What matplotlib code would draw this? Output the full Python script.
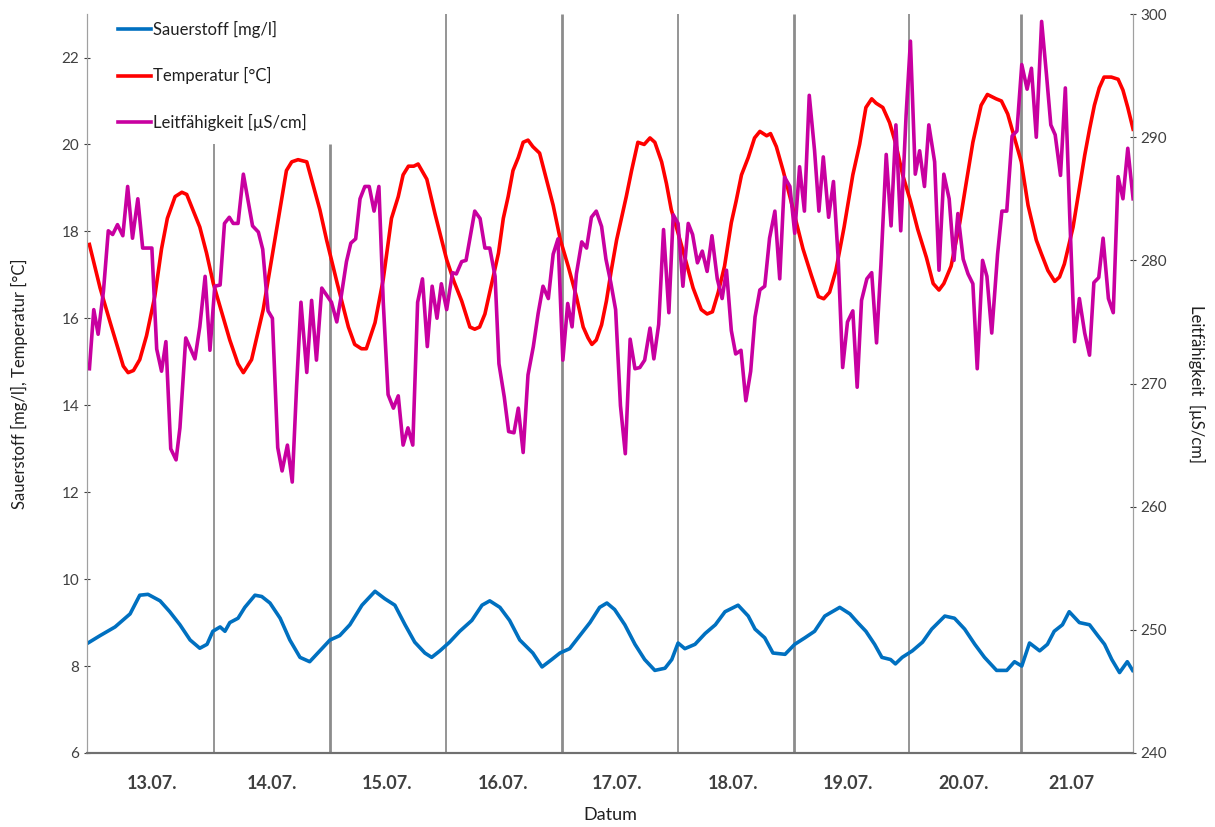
import numpy as np
import matplotlib
matplotlib.use("Agg")
import matplotlib.pyplot as plt

plt.rcParams['font.family'] = ['Lato', 'DejaVu Sans']

# hours since start of record
t_temp = [0.5, 2.7, 4.8, 7.5, 8.5, 9.6, 10.9, 12.3, 14.0, 15.4, 16.6, 18.2, 19.6, 20.6, 23.3, 24.7,
          26.1, 29.5, 31.2, 32.3, 34.0, 36.4, 38.8, 41.2, 42.3, 43.6, 45.4, 48.1, 49.5, 51.7,
          54.0, 55.3, 56.7, 57.7, 59.5, 61.2, 62.9, 64.3, 65.3, 66.4, 67.5, 68.4, 70.2, 71.9,
          74.3, 75.8, 77.4, 79.1, 80.1, 81.1, 82.2, 83.6, 85.0, 86.0, 87.0, 88.0, 89.1, 90.1,
          91.1, 92.1, 93.5, 94.9, 96.3, 97.8, 99.4, 101.1, 102.5, 103.5, 104.3, 105.2, 106.3,
          107.3, 108.3, 109.4, 110.4, 111.4, 112.5, 113.8, 115.1, 116.3, 117.3, 118.7, 119.7,
          120.7, 122.0, 123.5, 125.2, 126.9, 128.1, 129.2, 130.4, 131.7, 133.1, 134.1, 135.2,
          136.6, 137.9, 139.0, 140.4, 141.2, 142.4, 143.8, 145.2, 146.1, 147.9, 149.6, 151.1,
          152.2, 153.4, 154.7, 156.4, 158.2, 159.6, 160.9, 162.1, 163.0, 164.4, 165.8, 167.1,
          168.5, 170.1, 171.6, 173.4, 174.8, 176.0, 177.0, 178.5, 180.3, 181.6, 183.0, 184.7,
          186.0, 187.8, 188.9, 190.2, 191.6, 193.0, 194.4, 196.1, 197.1, 198.5, 199.9, 200.9,
          201.9, 203.7, 205.0, 206.1, 207.1, 208.1, 209.1, 210.1, 211.6, 213.0, 214.0, 215.0, 216.1]
temp = [17.7, 16.7, 15.9, 14.9, 14.75, 14.8, 15.05, 15.6, 16.5, 17.6, 18.3, 18.8, 18.9, 18.85, 18.1, 17.5,
        16.8, 15.5, 14.95, 14.75, 15.05, 16.2, 17.8, 19.4, 19.6, 19.65, 19.6, 18.5, 17.8, 16.8,
        15.8, 15.4, 15.3, 15.3, 15.9, 16.9, 18.3, 18.8, 19.3, 19.5, 19.5, 19.55, 19.2, 18.4,
        17.35, 16.85, 16.4, 15.8, 15.75, 15.8, 16.1, 16.8, 17.5, 18.3, 18.8, 19.4, 19.7, 20.05,
        20.1, 19.95, 19.8, 19.2, 18.6, 17.8, 17.2, 16.5, 15.8, 15.55, 15.4, 15.5, 15.85,
        16.4, 17.1, 17.8, 18.3, 18.8, 19.4, 20.05, 20.0, 20.15, 20.05, 19.6, 19.1,
        18.5, 18.0, 17.4, 16.7, 16.2, 16.1, 16.15, 16.6, 17.2, 18.2, 18.7, 19.3,
        19.7, 20.15, 20.3, 20.2, 20.25, 19.95, 19.4, 18.8, 18.4, 17.6, 17.0, 16.5,
        16.45, 16.6, 17.1, 18.1, 19.3, 20.0, 20.85, 21.05, 20.95, 20.85, 20.5, 20.0,
        19.3, 18.7, 18.05, 17.4, 16.8, 16.65, 16.8, 17.2, 18.2, 19.1, 20.05, 20.9,
        21.15, 21.05, 21.0, 20.7, 20.15, 19.6, 18.6, 17.8, 17.5, 17.1, 16.85, 16.95,
        17.25, 18.1, 19.0, 19.75, 20.35, 20.9, 21.3, 21.55, 21.55, 21.5, 21.25, 20.85, 20.35]

t_o2 = [0.2, 2.7, 5.8, 8.9, 10.9, 12.6, 15.1, 17.1, 19.2, 21.3, 23.3, 24.8, 26.0, 27.5, 28.5, 29.5,
        31.2, 32.6, 34.7, 36.1, 37.8, 39.9, 41.9, 44.0, 46.0, 48.1, 50.2, 52.2, 54.3, 56.8, 59.5,
        61.5, 63.6, 65.7, 67.7, 69.8, 71.2, 72.9, 74.9, 77.0, 79.5, 81.6, 83.2, 85.3, 87.3, 89.4,
        92.1, 94.0, 96.0, 97.7, 99.7, 101.8, 103.9, 105.9, 107.4, 109.0, 111.1, 113.2, 115.2,
        117.3, 119.4, 120.8, 122.1, 123.5, 125.6, 127.7, 129.8, 131.8, 134.5, 136.6, 138.0,
        140.0, 141.7, 144.2, 146.2, 148.3, 150.3, 152.4, 155.5, 157.6, 159.2, 160.9, 162.7,
        164.2, 166.0, 167.0, 168.4, 170.5, 172.6, 174.5, 177.2, 179.2, 181.3, 183.4, 185.4,
        187.9, 190.0, 191.6, 193.1, 194.7, 196.8, 198.4, 199.8, 201.5, 202.9, 205.0, 207.1,
        208.8, 210.2, 211.7, 213.3, 214.9, 216.0]
o2 = [8.53, 8.7, 8.9, 9.2, 9.63, 9.65, 9.5, 9.25, 8.95, 8.6, 8.41, 8.5, 8.8, 8.9, 8.8, 9.0,
      9.1, 9.35, 9.63, 9.6, 9.45, 9.1, 8.6, 8.2, 8.1, 8.35, 8.6, 8.7, 8.95, 9.4, 9.72,
      9.55, 9.4, 8.95, 8.55, 8.3, 8.2, 8.35, 8.55, 8.8, 9.05, 9.4, 9.5, 9.35, 9.05, 8.6,
      8.3, 7.98, 8.15, 8.3, 8.4, 8.7, 9.0, 9.35, 9.45, 9.3, 8.95, 8.5, 8.15,
      7.9, 7.95, 8.15, 8.53, 8.4, 8.5, 8.75, 8.95, 9.25, 9.4, 9.15, 8.85,
      8.65, 8.3, 8.27, 8.5, 8.65, 8.8, 9.15, 9.35, 9.2, 9.0, 8.8, 8.5,
      8.2, 8.15, 8.05, 8.2, 8.35, 8.55, 8.85, 9.15, 9.1, 8.85, 8.5, 8.2,
      7.9, 7.9, 8.1, 8.0, 8.53, 8.35, 8.5, 8.8, 8.95, 9.25, 9.0, 8.95,
      8.7, 8.5, 8.15, 7.85, 8.1, 7.9]

t_lf = [0.5, 1.4, 2.3, 3.4, 4.4, 5.3, 6.3, 7.4, 8.4, 9.4, 10.5, 11.5, 13.4, 14.4, 15.4, 16.3, 17.3,
        18.4, 19.2, 20.4, 22.3, 23.3, 24.4, 25.4, 26.4, 27.5, 28.4, 29.4, 30.2, 31.2, 32.3, 34.2,
        35.4, 36.3, 37.4, 38.3, 39.4, 40.3, 41.4, 42.4, 43.3, 44.2, 45.4, 46.4, 47.4, 48.5, 50.5,
        51.6, 52.6, 53.6, 54.5, 55.5, 56.4, 57.4, 58.3, 59.3, 60.3, 61.2, 62.2, 63.3, 64.3, 65.3,
        66.3, 67.3, 68.3, 69.3, 70.3, 71.3, 72.3, 73.2, 74.3, 75.5, 76.3, 77.4, 78.3, 80.1, 81.2,
        82.2, 83.2, 84.3, 85.1, 86.2, 87.1, 88.2, 89.1, 90.1, 91.1, 92.2, 93.2, 94.2, 95.3, 96.3,
        97.3, 98.3, 99.3, 100.2, 101.1, 102.2, 103.2, 104.2, 105.2, 106.3, 107.2, 108.2, 109.2,
        110.2, 111.2, 112.2, 113.2, 114.2, 115.2, 116.3, 117.1, 118.1, 119.1, 120.2, 121.1, 122.1,
        123.1, 124.2, 125.1, 126.1, 127.1, 128.1, 129.1, 130.2, 131.2, 132.1, 133.1, 134.0, 135.1,
        136.1, 137.1, 138.0, 139.0, 140.0, 141.0, 142.1, 143.1, 144.1, 145.2, 146.2, 147.2, 148.2,
        149.2, 150.3, 151.2, 152.1, 153.2, 154.2, 155.2, 156.1, 157.1, 158.2, 159.1, 160.0, 161.1,
        162.1, 163.1, 164.0, 165.1, 166.1, 167.1, 168.1, 169.2, 170.1, 171.1, 172.0, 173.0, 173.9,
        175.1, 176.0, 177.0, 178.1, 179.1, 179.9, 181.0, 182.0, 183.0, 183.9, 185.0, 185.9, 186.9,
        188.1, 189.0, 190.0, 191.1, 192.1, 193.1, 194.2, 195.1, 196.1, 197.2, 198.2, 199.1, 200.0,
        201.1, 202.1, 203.0, 204.0, 205.0, 206.1, 207.1, 208.0, 209.0, 209.9, 211.0, 212.0, 213.0,
        214.0, 215.0, 216.1]
lf = [271.2, 276.0, 274.0, 277.5, 282.4, 282.1, 282.9, 282.0, 286.0, 281.8, 285.0, 281.0, 281.0, 272.8,
      271.0, 273.4, 264.7, 263.8, 266.4, 273.7, 272.0, 274.6, 278.7, 272.7, 277.9, 278.0, 283.0, 283.5,
      283.0, 283.0, 287.0, 282.8, 282.3, 280.9, 275.9, 275.3, 264.8, 262.9, 265.0, 262.0, 269.8, 276.6,
      270.9, 276.75, 271.9, 277.75, 276.6, 275.0, 277.3, 279.9, 281.4, 281.75, 285.0, 286.0, 286.0,
      284.0, 286.0, 276.6, 269.1, 268.0, 269.0, 265.0, 266.4, 265.0, 276.6, 278.5, 273.0, 277.9,
      275.3, 278.1, 276.0, 279.0, 278.9, 279.9, 280.0, 284.0, 283.4, 281.0, 281.0, 278.7, 271.6,
      268.9, 266.1, 266.0, 268.0, 264.4, 270.7, 273.0, 275.7, 277.9, 276.9, 280.5, 281.75, 271.9,
      276.5, 274.6, 278.9, 281.5, 281.0, 283.5, 284.0, 282.75, 280.1, 278.2, 276.0, 268.2, 264.3,
      273.6, 271.2, 271.3, 271.9, 274.5, 272.0, 274.8, 282.5, 275.75, 283.7, 283.0, 277.9, 283.0,
      282.1, 279.8, 280.75, 279.1, 282.0, 278.5, 276.9, 279.2, 274.3, 272.4, 272.7, 268.6, 271.0,
      275.4, 277.6, 277.9, 281.8, 284.0, 278.5, 286.75, 286.0, 282.2, 287.6, 284.0, 293.4, 288.9,
      284.0, 288.4, 283.5, 286.4, 280.0, 271.3, 275.0, 275.9, 269.7, 276.75, 278.5, 279.0, 273.3,
      279.6, 288.6, 282.8, 291.0, 282.4, 291.75, 297.8, 287.0, 288.9, 286.0, 291.0, 288.0, 279.2,
      287.0, 285.0, 280.0, 283.8, 280.1, 278.9, 278.1, 271.2, 280.0, 278.7, 274.1, 280.5, 284.0,
      284.0, 290.1, 290.5, 295.9, 293.9, 295.6, 290.0, 299.4, 295.1, 291.0, 290.2, 286.9, 294.0,
      283.7, 273.4, 276.9, 274.1, 272.3, 278.2, 278.6, 281.8, 276.9, 275.75, 286.8, 285.0, 289.1,
      285.0]

day_lines = [26.2, 50.2, 74.1, 98.1, 122.0, 146.0, 169.9, 192.9]
day_pos = [13.4, 38.2, 61.9, 85.9, 109.4, 133.4, 157.3, 181.1, 203.4]
day_labels = ["13.07.", "14.07.", "15.07.", "16.07.", "17.07.", "18.07.", "19.07.", "20.07.", "21.07"]

fig = plt.figure(figsize=(12.15, 8.27), dpi=100)
ax = fig.add_axes([0.0716, 0.0895, 0.861, 0.8935])
ax2 = ax.twinx()

# the legend box hides the upper part of the first two day lines
line_top = [20.0, 20.0, 23, 23, 23, 23, 23, 23]
for i, d in enumerate(day_lines):
    ax.vlines(d, 6, line_top[i], color='#8c8c8c', lw=2.0 if i % 2 else 1.3, zorder=1)

l1, = ax.plot(t_o2, o2, color='#0070C0', lw=2.6, label='Sauerstoff [mg/l]', zorder=3)
l2, = ax.plot(t_temp, temp, color='#FF0000', lw=2.6, label='Temperatur [°C]', zorder=3)
l3, = ax2.plot(t_lf, lf, color='#C800A0', lw=2.6, label='Leitfähigkeit [µS/cm]')

ax.set_xlim(0, 216.1)
ax.set_ylim(6, 23)
ax.set_yticks(range(6, 23, 2))
ax2.set_ylim(240, 300)
ax2.set_yticks(range(240, 301, 10))

ax.set_xticks(day_pos)
ax.set_xticklabels(day_labels, fontsize=13, fontweight='bold', color='#404040')
ax.tick_params(axis='x', length=0, pad=16)
ax.tick_params(axis='y', labelsize=11, colors='#404040', length=4, direction='inout', width=0.8)
ax2.tick_params(axis='y', labelsize=11, colors='#404040', length=4, direction='inout', width=0.8)
for a in (ax, ax2):
    a.spines['top'].set_visible(False)
    a.spines['left'].set_color('#a0a0a0')
    a.spines['right'].set_color('#a0a0a0')
    a.spines['bottom'].set_color('#707070')
    a.spines['bottom'].set_linestyle((0, (1, 1)))
    a.spines['bottom'].set_linewidth(1.5)

ax.set_xlabel('Datum', fontsize=13, color='#202020', labelpad=11)
ax.set_ylabel('Sauerstoff [mg/l], Temperatur [°C]', fontsize=12, color='#202020', labelpad=24)
ax2.set_ylabel('Leitfähigkeit  [µS/cm]', fontsize=12, color='#202020', rotation=270, labelpad=27)

leg = ax2.legend(handles=[l1, l2, l3], loc='upper left', bbox_to_anchor=(0.025, 0.997),
                 fontsize=12, frameon=False,
                 handlelength=2.0, handletextpad=0.1, labelspacing=1.75, borderpad=0.3,
                 borderaxespad=0.0)
for t in leg.get_texts():
    t.set_color('#202020')

fig.savefig('out.png', dpi=100)
